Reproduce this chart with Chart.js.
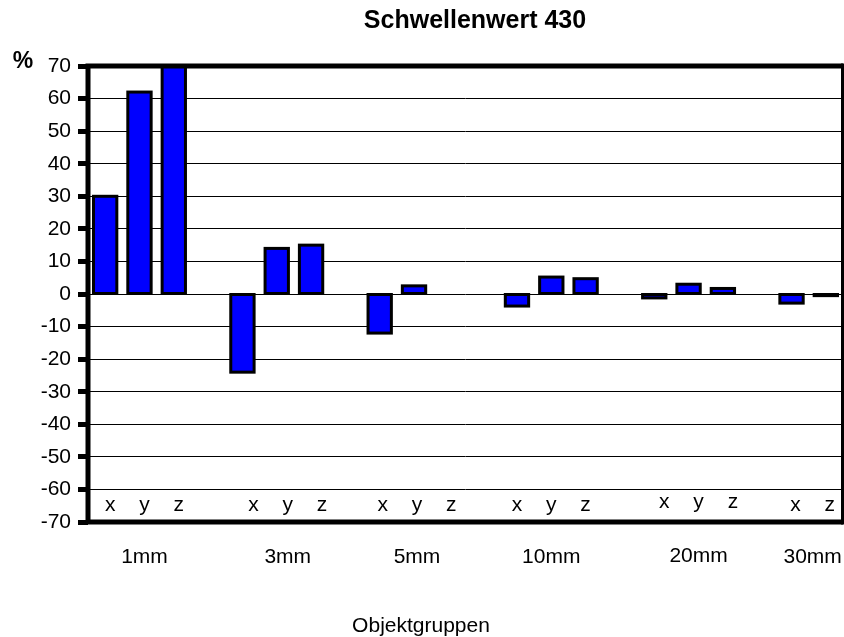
<!DOCTYPE html>
<html>
<head>
<meta charset="utf-8">
<script src="https://cdn.jsdelivr.net/npm/chart.js@4"></script>
<style>
  html, body { margin: 0; padding: 0; background: #fff; }
  canvas { display: block; }
</style>
</head>
<body>
<canvas id="c" width="844" height="637"></canvas>
<script>
// Object groups and the measured axes within each group
const groups = ['1mm', '3mm', '5mm', '10mm', '20mm', '30mm'];
const groupAxes = [
  ['x', 'y', 'z'],
  ['x', 'y', 'z'],
  ['x', 'y', 'z'],
  ['x', 'y', 'z'],
  ['x', 'y', 'z'],
  ['x', 'z']
];
// Deviation in % per axis (threshold 430)
const deviation = [
  [30, 62, 70],
  [-24, 14, 15],
  [-12, 2.5, null],
  [-3.7, 5.2, 4.7],
  [-1.2, 3, 1.7],
  [-2.8, -0.5]
];
const yMin = -70, yMax = 70, yStep = 10;

// Horizontal text nudges per group (px) and the lifted label row of the 20mm group
const groupNudge = [5, 11, 3, 0, 10, 4];
const groupLift = [0, 0, 0, 0, 3, 0];

// Flatten into slots, with one empty spacer slot between groups
const slotLabels = [];
const slotValues = [];
const slotGroup = [];
groups.forEach((g, gi) => {
  groupAxes[gi].forEach((a, ai) => {
    slotLabels.push(a);
    slotValues.push(deviation[gi][ai]);
    slotGroup.push(gi);
  });
  if (gi < groups.length - 1) {
    slotLabels.push('');
    slotValues.push(null);
    slotGroup.push(-1);
  }
});

const FONT = '"Liberation Sans", Arial, sans-serif';

// Bar outlines are stroked centred on the bar edges
const outlineBars = {
  id: 'outlineBars',
  afterDatasetsDraw(chart) {
    const { ctx } = chart;
    const meta = chart.getDatasetMeta(0);
    ctx.save();
    ctx.strokeStyle = '#000';
    ctx.lineWidth = 3;
    ctx.lineJoin = 'miter';
    meta.data.forEach((el, i) => {
      if (slotValues[i] === null || el.skip) return;
      const { x, y, base, width } = el.getProps(['x', 'y', 'base', 'width'], true);
      const left = x - width / 2;
      const top = Math.min(y, base);
      const h = Math.abs(base - y);
      ctx.strokeRect(left, top, width, h);
    });
    ctx.restore();
  }
};

const annotate = {
  id: 'annotate',
  afterDatasetsDraw(chart) {
    const { ctx, chartArea: a, scales } = chart;
    const xs = scales.x, ys = scales.y;
    ctx.save();
    // Plot frame
    ctx.strokeStyle = '#000';
    ctx.lineCap = 'butt';
    ctx.lineWidth = 5;
    ctx.beginPath();
    ctx.moveTo(a.left - 2.5, a.top); ctx.lineTo(a.right, a.top);
    ctx.moveTo(a.left, a.top); ctx.lineTo(a.left, a.bottom + 2.5);
    ctx.moveTo(a.left - 2.5, a.bottom); ctx.lineTo(a.right, a.bottom);
    ctx.stroke();
    ctx.lineWidth = 3;
    ctx.beginPath();
    ctx.moveTo(a.right - 0.5, a.top - 2.5); ctx.lineTo(a.right - 0.5, a.bottom + 2.5);
    ctx.stroke();

    ctx.fillStyle = '#000';
    ctx.textBaseline = 'alphabetic';
    ctx.textAlign = 'center';

    // Title and unit
    ctx.font = 'bold 25px ' + FONT;
    ctx.fillText('Schwellenwert 430', 475, 28);
    ctx.font = 'bold 23px ' + FONT;
    ctx.fillText('%', 23, 68);

    // Axis letters inside the plot
    ctx.font = '21px ' + FONT;
    const letterY = ys.getPixelForValue(-66.5);
    slotLabels.forEach((lab, i) => {
      if (!lab) return;
      const gi = slotGroup[i];
      ctx.fillText(lab, xs.getPixelForValue(i) + groupNudge[gi], letterY - groupLift[gi]);
    });

    // Group names below the plot
    let start = 0;
    groups.forEach((g, gi) => {
      const n = groupAxes[gi].length;
      const cx = (xs.getPixelForValue(start) + xs.getPixelForValue(start + n - 1)) / 2;
      ctx.fillText(g, cx + groupNudge[gi], 563 - groupLift[gi] / 2);
      start += n + 1;
    });

    ctx.fillText('Objektgruppen', 421, 632);
    ctx.restore();
  }
};

new Chart(document.getElementById('c'), {
  type: 'bar',
  data: {
    labels: slotLabels,
    datasets: [{
      data: slotValues,
      backgroundColor: '#0000FF',
      borderWidth: 0,
      barPercentage: 0.68,
      categoryPercentage: 1
    }]
  },
  options: {
    responsive: false,
    animation: false,
    layout: { padding: { top: 66, bottom: 115, left: 0, right: 1 } },
    plugins: { legend: { display: false }, tooltip: { enabled: false }, title: { display: false } },
    scales: {
      x: { type: 'category', display: false, offset: true },
      y: {
        min: yMin, max: yMax,
        afterFit(scale) { scale.width = 88; },
        ticks: { stepSize: yStep, color: '#000', padding: 7, font: { family: FONT, size: 21 } },
        grid: { color: '#000', lineWidth: 1, tickLength: 10, tickWidth: 5, tickColor: '#000' },
        border: { display: false }
      }
    }
  },
  plugins: [outlineBars, annotate]
});
</script>
</body>
</html>
